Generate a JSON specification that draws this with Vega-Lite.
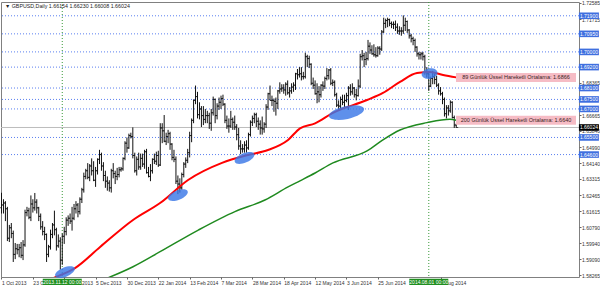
{
"$schema":"https://vega.github.io/schema/vega-lite/v6.json",
"width":578,"height":275,
"autosize":{"type":"none"},
"padding":{"left":1,"top":2,"right":21,"bottom":10},
"background":"#ffffff",
"config":{"view":{"stroke":"#808080","strokeWidth":1},"font":"Liberation Sans"},
"resolve":{"axis":{"x":"independent","y":"independent"}},
"datasets":{
"bars":[
{"d":"2013-10-01","i":0,"o":1.618,"h":1.6259,"l":1.615,"c":1.6195},
{"d":"2013-10-02","i":1,"o":1.6195,"h":1.6225,"l":1.615,"c":1.6205},
{"d":"2013-10-03","i":2,"o":1.6205,"h":1.6215,"l":1.611,"c":1.6175},
{"d":"2013-10-04","i":3,"o":1.6175,"h":1.6185,"l":1.6005,"c":1.602},
{"d":"2013-10-07","i":4,"o":1.602,"h":1.609,"l":1.6,"c":1.6075},
{"d":"2013-10-08","i":5,"o":1.6075,"h":1.61,"l":1.602,"c":1.6045},
{"d":"2013-10-09","i":6,"o":1.6045,"h":1.606,"l":1.5895,"c":1.5935},
{"d":"2013-10-10","i":7,"o":1.5935,"h":1.5995,"l":1.591,"c":1.5965},
{"d":"2013-10-11","i":8,"o":1.5965,"h":1.599,"l":1.5935,"c":1.596},
{"d":"2013-10-14","i":9,"o":1.596,"h":1.599,"l":1.592,"c":1.597},
{"d":"2013-10-15","i":10,"o":1.597,"h":1.6,"l":1.5915,"c":1.593},
{"d":"2013-10-16","i":11,"o":1.593,"h":1.601,"l":1.5905,"c":1.5985},
{"d":"2013-10-17","i":12,"o":1.5985,"h":1.617,"l":1.5975,"c":1.6155},
{"d":"2013-10-18","i":13,"o":1.6155,"h":1.6185,"l":1.6135,"c":1.6165},
{"d":"2013-10-21","i":14,"o":1.6165,"h":1.618,"l":1.612,"c":1.613},
{"d":"2013-10-22","i":15,"o":1.613,"h":1.6245,"l":1.611,"c":1.62},
{"d":"2013-10-23","i":16,"o":1.62,"h":1.6225,"l":1.6155,"c":1.618},
{"d":"2013-10-24","i":17,"o":1.618,"h":1.6258,"l":1.6165,"c":1.621},
{"d":"2013-10-25","i":18,"o":1.621,"h":1.6225,"l":1.615,"c":1.618},
{"d":"2013-10-28","i":19,"o":1.618,"h":1.6185,"l":1.611,"c":1.6135},
{"d":"2013-10-29","i":20,"o":1.6135,"h":1.615,"l":1.6065,"c":1.608},
{"d":"2013-10-30","i":21,"o":1.608,"h":1.611,"l":1.6035,"c":1.6055},
{"d":"2013-10-31","i":22,"o":1.6055,"h":1.608,"l":1.601,"c":1.604},
{"d":"2013-11-01","i":23,"o":1.604,"h":1.6045,"l":1.5895,"c":1.5935},
{"d":"2013-11-04","i":24,"o":1.5935,"h":1.5985,"l":1.592,"c":1.5975},
{"d":"2013-11-05","i":25,"o":1.5975,"h":1.6065,"l":1.596,"c":1.604},
{"d":"2013-11-06","i":26,"o":1.604,"h":1.61,"l":1.602,"c":1.609},
{"d":"2013-11-07","i":27,"o":1.609,"h":1.6165,"l":1.6035,"c":1.6065},
{"d":"2013-11-08","i":28,"o":1.6065,"h":1.6075,"l":1.5955,"c":1.598},
{"d":"2013-11-11","i":29,"o":1.598,"h":1.604,"l":1.597,"c":1.6005},
{"d":"2013-11-12","i":30,"o":1.6005,"h":1.6025,"l":1.5855,"c":1.5905},
{"d":"2013-11-13","i":31,"o":1.5905,"h":1.6045,"l":1.588,"c":1.603},
{"d":"2013-11-14","i":32,"o":1.603,"h":1.608,"l":1.599,"c":1.6055},
{"d":"2013-11-15","i":33,"o":1.6055,"h":1.613,"l":1.6035,"c":1.6115},
{"d":"2013-11-18","i":34,"o":1.6115,"h":1.614,"l":1.6085,"c":1.6125},
{"d":"2013-11-19","i":35,"o":1.6125,"h":1.615,"l":1.6095,"c":1.611},
{"d":"2013-11-20","i":36,"o":1.611,"h":1.6185,"l":1.606,"c":1.6125},
{"d":"2013-11-21","i":37,"o":1.6125,"h":1.62,"l":1.6115,"c":1.6175},
{"d":"2013-11-22","i":38,"o":1.6175,"h":1.6215,"l":1.615,"c":1.6195},
{"d":"2013-11-25","i":39,"o":1.6195,"h":1.6205,"l":1.613,"c":1.616},
{"d":"2013-11-26","i":40,"o":1.616,"h":1.6235,"l":1.6145,"c":1.6225},
{"d":"2013-11-27","i":41,"o":1.6225,"h":1.6285,"l":1.6205,"c":1.6275},
{"d":"2013-11-28","i":42,"o":1.6275,"h":1.6365,"l":1.626,"c":1.6345},
{"d":"2013-11-29","i":43,"o":1.6345,"h":1.6385,"l":1.633,"c":1.6375},
{"d":"2013-12-02","i":44,"o":1.6375,"h":1.6415,"l":1.633,"c":1.634},
{"d":"2013-12-03","i":45,"o":1.634,"h":1.641,"l":1.632,"c":1.64},
{"d":"2013-12-04","i":46,"o":1.64,"h":1.644,"l":1.635,"c":1.6375},
{"d":"2013-12-05","i":47,"o":1.6375,"h":1.6425,"l":1.632,"c":1.6325},
{"d":"2013-12-06","i":48,"o":1.6325,"h":1.6395,"l":1.629,"c":1.6375},
{"d":"2013-12-09","i":49,"o":1.6375,"h":1.644,"l":1.6355,"c":1.6435},
{"d":"2013-12-10","i":50,"o":1.6435,"h":1.6485,"l":1.641,"c":1.646},
{"d":"2013-12-11","i":51,"o":1.646,"h":1.647,"l":1.6375,"c":1.64},
{"d":"2013-12-12","i":52,"o":1.64,"h":1.642,"l":1.632,"c":1.635},
{"d":"2013-12-13","i":53,"o":1.635,"h":1.6375,"l":1.6285,"c":1.632},
{"d":"2013-12-16","i":54,"o":1.632,"h":1.6345,"l":1.627,"c":1.631},
{"d":"2013-12-17","i":55,"o":1.631,"h":1.6325,"l":1.6265,"c":1.6285},
{"d":"2013-12-18","i":56,"o":1.6285,"h":1.6385,"l":1.626,"c":1.6375},
{"d":"2013-12-19","i":57,"o":1.6375,"h":1.6415,"l":1.6335,"c":1.636},
{"d":"2013-12-20","i":58,"o":1.636,"h":1.6375,"l":1.6305,"c":1.6345},
{"d":"2013-12-23","i":59,"o":1.6345,"h":1.639,"l":1.6325,"c":1.6355},
{"d":"2013-12-24","i":60,"o":1.6355,"h":1.6395,"l":1.634,"c":1.638},
{"d":"2013-12-25","i":61,"o":1.638,"h":1.6395,"l":1.637,"c":1.6385},
{"d":"2013-12-26","i":62,"o":1.6385,"h":1.6445,"l":1.6375,"c":1.644},
{"d":"2013-12-27","i":63,"o":1.644,"h":1.653,"l":1.643,"c":1.652},
{"d":"2013-12-30","i":64,"o":1.652,"h":1.655,"l":1.647,"c":1.6495},
{"d":"2013-12-31","i":65,"o":1.6495,"h":1.657,"l":1.649,"c":1.656},
{"d":"2014-01-01","i":66,"o":1.656,"h":1.6575,"l":1.6545,"c":1.6555},
{"d":"2014-01-02","i":67,"o":1.6555,"h":1.6603,"l":1.644,"c":1.6455},
{"d":"2014-01-03","i":68,"o":1.6455,"h":1.647,"l":1.6365,"c":1.6375},
{"d":"2014-01-06","i":69,"o":1.6375,"h":1.645,"l":1.635,"c":1.6435},
{"d":"2014-01-07","i":70,"o":1.6435,"h":1.647,"l":1.638,"c":1.6395},
{"d":"2014-01-08","i":71,"o":1.6395,"h":1.6465,"l":1.638,"c":1.644},
{"d":"2014-01-09","i":72,"o":1.644,"h":1.6465,"l":1.6395,"c":1.641},
{"d":"2014-01-10","i":73,"o":1.641,"h":1.6485,"l":1.6385,"c":1.6475},
{"d":"2014-01-13","i":74,"o":1.6475,"h":1.649,"l":1.636,"c":1.6365},
{"d":"2014-01-14","i":75,"o":1.6365,"h":1.6395,"l":1.634,"c":1.6345},
{"d":"2014-01-15","i":76,"o":1.6345,"h":1.641,"l":1.632,"c":1.6375},
{"d":"2014-01-16","i":77,"o":1.6375,"h":1.644,"l":1.636,"c":1.6435},
{"d":"2014-01-17","i":78,"o":1.6435,"h":1.6465,"l":1.641,"c":1.6425},
{"d":"2014-01-20","i":79,"o":1.6425,"h":1.6475,"l":1.6405,"c":1.6455},
{"d":"2014-01-21","i":80,"o":1.6455,"h":1.648,"l":1.6395,"c":1.6405},
{"d":"2014-01-22","i":81,"o":1.6405,"h":1.6625,"l":1.64,"c":1.66},
{"d":"2014-01-23","i":82,"o":1.66,"h":1.6625,"l":1.652,"c":1.6585},
{"d":"2014-01-24","i":83,"o":1.6585,"h":1.6668,"l":1.6525,"c":1.653},
{"d":"2014-01-27","i":84,"o":1.653,"h":1.6575,"l":1.651,"c":1.6555},
{"d":"2014-01-28","i":85,"o":1.6555,"h":1.659,"l":1.652,"c":1.657},
{"d":"2014-01-29","i":86,"o":1.657,"h":1.658,"l":1.6485,"c":1.6515},
{"d":"2014-01-30","i":87,"o":1.6515,"h":1.652,"l":1.643,"c":1.6445},
{"d":"2014-01-31","i":88,"o":1.6445,"h":1.6485,"l":1.642,"c":1.6435},
{"d":"2014-02-03","i":89,"o":1.6435,"h":1.645,"l":1.6305,"c":1.632},
{"d":"2014-02-04","i":90,"o":1.632,"h":1.635,"l":1.6252,"c":1.6305},
{"d":"2014-02-05","i":91,"o":1.6305,"h":1.6335,"l":1.626,"c":1.6285},
{"d":"2014-02-06","i":92,"o":1.6285,"h":1.6365,"l":1.6275,"c":1.6355},
{"d":"2014-02-07","i":93,"o":1.6355,"h":1.642,"l":1.634,"c":1.641},
{"d":"2014-02-10","i":94,"o":1.641,"h":1.6445,"l":1.639,"c":1.643},
{"d":"2014-02-11","i":95,"o":1.643,"h":1.649,"l":1.6415,"c":1.647},
{"d":"2014-02-12","i":96,"o":1.647,"h":1.658,"l":1.6445,"c":1.656},
{"d":"2014-02-13","i":97,"o":1.656,"h":1.665,"l":1.6525,"c":1.664},
{"d":"2014-02-14","i":98,"o":1.664,"h":1.675,"l":1.6625,"c":1.6745},
{"d":"2014-02-17","i":99,"o":1.6745,"h":1.6823,"l":1.6725,"c":1.6765},
{"d":"2014-02-18","i":100,"o":1.6765,"h":1.679,"l":1.665,"c":1.667},
{"d":"2014-02-19","i":101,"o":1.667,"h":1.6735,"l":1.6645,"c":1.67},
{"d":"2014-02-20","i":102,"o":1.67,"h":1.6715,"l":1.6605,"c":1.6665},
{"d":"2014-02-21","i":103,"o":1.6665,"h":1.6715,"l":1.6615,"c":1.6645},
{"d":"2014-02-24","i":104,"o":1.6645,"h":1.67,"l":1.6625,"c":1.6665},
{"d":"2014-02-25","i":105,"o":1.6665,"h":1.669,"l":1.6625,"c":1.6665},
{"d":"2014-02-26","i":106,"o":1.6665,"h":1.668,"l":1.6595,"c":1.6625},
{"d":"2014-02-27","i":107,"o":1.6625,"h":1.67,"l":1.6585,"c":1.668},
{"d":"2014-02-28","i":108,"o":1.668,"h":1.6765,"l":1.6665,"c":1.675},
{"d":"2014-03-03","i":109,"o":1.675,"h":1.6755,"l":1.6625,"c":1.6665},
{"d":"2014-03-04","i":110,"o":1.6665,"h":1.673,"l":1.6645,"c":1.6715},
{"d":"2014-03-05","i":111,"o":1.6715,"h":1.676,"l":1.6695,"c":1.6735},
{"d":"2014-03-06","i":112,"o":1.6735,"h":1.677,"l":1.67,"c":1.6755},
{"d":"2014-03-07","i":113,"o":1.6755,"h":1.6775,"l":1.6715,"c":1.6725},
{"d":"2014-03-10","i":114,"o":1.6725,"h":1.673,"l":1.6625,"c":1.664},
{"d":"2014-03-11","i":115,"o":1.664,"h":1.6665,"l":1.6595,"c":1.661},
{"d":"2014-03-12","i":116,"o":1.661,"h":1.665,"l":1.6575,"c":1.661},
{"d":"2014-03-13","i":117,"o":1.661,"h":1.669,"l":1.66,"c":1.6645},
{"d":"2014-03-14","i":118,"o":1.6645,"h":1.6655,"l":1.659,"c":1.663},
{"d":"2014-03-17","i":119,"o":1.663,"h":1.6665,"l":1.659,"c":1.6605},
{"d":"2014-03-18","i":120,"o":1.6605,"h":1.662,"l":1.6535,"c":1.6565},
{"d":"2014-03-19","i":121,"o":1.6565,"h":1.66,"l":1.6485,"c":1.6505},
{"d":"2014-03-20","i":122,"o":1.6505,"h":1.6535,"l":1.6462,"c":1.649},
{"d":"2014-03-21","i":123,"o":1.649,"h":1.6515,"l":1.647,"c":1.649},
{"d":"2014-03-24","i":124,"o":1.649,"h":1.653,"l":1.647,"c":1.651},
{"d":"2014-03-25","i":125,"o":1.651,"h":1.6535,"l":1.647,"c":1.6495},
{"d":"2014-03-26","i":126,"o":1.6495,"h":1.6575,"l":1.6485,"c":1.6565},
{"d":"2014-03-27","i":127,"o":1.6565,"h":1.664,"l":1.6555,"c":1.663},
{"d":"2014-03-28","i":128,"o":1.663,"h":1.6665,"l":1.661,"c":1.665},
{"d":"2014-03-31","i":129,"o":1.665,"h":1.668,"l":1.6625,"c":1.667},
{"d":"2014-04-01","i":130,"o":1.667,"h":1.668,"l":1.6605,"c":1.6635},
{"d":"2014-04-02","i":131,"o":1.6635,"h":1.6655,"l":1.659,"c":1.662},
{"d":"2014-04-03","i":132,"o":1.662,"h":1.664,"l":1.6565,"c":1.66},
{"d":"2014-04-04","i":133,"o":1.66,"h":1.666,"l":1.6565,"c":1.6595},
{"d":"2014-04-07","i":134,"o":1.6595,"h":1.663,"l":1.6575,"c":1.662},
{"d":"2014-04-08","i":135,"o":1.662,"h":1.6725,"l":1.66,"c":1.671},
{"d":"2014-04-09","i":136,"o":1.671,"h":1.6785,"l":1.6695,"c":1.678},
{"d":"2014-04-10","i":137,"o":1.678,"h":1.6823,"l":1.6745,"c":1.6745},
{"d":"2014-04-11","i":138,"o":1.6745,"h":1.677,"l":1.6715,"c":1.6745},
{"d":"2014-04-14","i":139,"o":1.6745,"h":1.6755,"l":1.6685,"c":1.674},
{"d":"2014-04-15","i":140,"o":1.674,"h":1.676,"l":1.6665,"c":1.673},
{"d":"2014-04-16","i":141,"o":1.673,"h":1.68,"l":1.67,"c":1.6795},
{"d":"2014-04-17","i":142,"o":1.6795,"h":1.684,"l":1.678,"c":1.6805},
{"d":"2014-04-18","i":143,"o":1.6805,"h":1.683,"l":1.679,"c":1.681},
{"d":"2014-04-21","i":144,"o":1.681,"h":1.683,"l":1.678,"c":1.68},
{"d":"2014-04-22","i":145,"o":1.68,"h":1.684,"l":1.677,"c":1.683},
{"d":"2014-04-23","i":146,"o":1.683,"h":1.685,"l":1.6775,"c":1.6785},
{"d":"2014-04-24","i":147,"o":1.6785,"h":1.6815,"l":1.676,"c":1.6795},
{"d":"2014-04-25","i":148,"o":1.6795,"h":1.6835,"l":1.678,"c":1.6815},
{"d":"2014-04-28","i":149,"o":1.6815,"h":1.684,"l":1.679,"c":1.6825},
{"d":"2014-04-29","i":150,"o":1.6825,"h":1.689,"l":1.68,"c":1.6885},
{"d":"2014-04-30","i":151,"o":1.6885,"h":1.691,"l":1.6855,"c":1.688},
{"d":"2014-05-01","i":152,"o":1.688,"h":1.692,"l":1.6865,"c":1.6885},
{"d":"2014-05-02","i":153,"o":1.6885,"h":1.692,"l":1.685,"c":1.687},
{"d":"2014-05-05","i":154,"o":1.687,"h":1.6895,"l":1.6855,"c":1.687},
{"d":"2014-05-06","i":155,"o":1.687,"h":1.6996,"l":1.686,"c":1.6975},
{"d":"2014-05-07","i":156,"o":1.6975,"h":1.6985,"l":1.692,"c":1.6965},
{"d":"2014-05-08","i":157,"o":1.6965,"h":1.698,"l":1.6915,"c":1.6935},
{"d":"2014-05-09","i":158,"o":1.6935,"h":1.694,"l":1.6825,"c":1.6835},
{"d":"2014-05-12","i":159,"o":1.6835,"h":1.6865,"l":1.6805,"c":1.6825},
{"d":"2014-05-13","i":160,"o":1.6825,"h":1.685,"l":1.6775,"c":1.678},
{"d":"2014-05-14","i":161,"o":1.678,"h":1.6835,"l":1.673,"c":1.679},
{"d":"2014-05-15","i":162,"o":1.679,"h":1.682,"l":1.6735,"c":1.6775},
{"d":"2014-05-16","i":163,"o":1.6775,"h":1.683,"l":1.676,"c":1.6825},
{"d":"2014-05-19","i":164,"o":1.6825,"h":1.6845,"l":1.6795,"c":1.682},
{"d":"2014-05-20","i":165,"o":1.682,"h":1.687,"l":1.6805,"c":1.686},
{"d":"2014-05-21","i":166,"o":1.686,"h":1.6915,"l":1.685,"c":1.6875},
{"d":"2014-05-22","i":167,"o":1.6875,"h":1.691,"l":1.6855,"c":1.6905},
{"d":"2014-05-23","i":168,"o":1.6905,"h":1.6915,"l":1.6825,"c":1.6835},
{"d":"2014-05-26","i":169,"o":1.6835,"h":1.6855,"l":1.682,"c":1.684},
{"d":"2014-05-27","i":170,"o":1.684,"h":1.685,"l":1.6765,"c":1.6775},
{"d":"2014-05-28","i":171,"o":1.6775,"h":1.6785,"l":1.671,"c":1.672},
{"d":"2014-05-29","i":172,"o":1.672,"h":1.6745,"l":1.6693,"c":1.6715},
{"d":"2014-05-30","i":173,"o":1.6715,"h":1.6765,"l":1.67,"c":1.675},
{"d":"2014-06-02","i":174,"o":1.675,"h":1.6775,"l":1.672,"c":1.6735},
{"d":"2014-06-03","i":175,"o":1.6735,"h":1.6775,"l":1.671,"c":1.6745},
{"d":"2014-06-04","i":176,"o":1.6745,"h":1.6785,"l":1.6735,"c":1.677},
{"d":"2014-06-05","i":177,"o":1.677,"h":1.682,"l":1.6695,"c":1.681},
{"d":"2014-06-06","i":178,"o":1.681,"h":1.683,"l":1.677,"c":1.679},
{"d":"2014-06-09","i":179,"o":1.679,"h":1.6835,"l":1.6775,"c":1.681},
{"d":"2014-06-10","i":180,"o":1.681,"h":1.6815,"l":1.676,"c":1.6775},
{"d":"2014-06-11","i":181,"o":1.6775,"h":1.6805,"l":1.6745,"c":1.677},
{"d":"2014-06-12","i":182,"o":1.677,"h":1.6855,"l":1.6765,"c":1.682},
{"d":"2014-06-13","i":183,"o":1.682,"h":1.699,"l":1.681,"c":1.6975},
{"d":"2014-06-16","i":184,"o":1.6975,"h":1.701,"l":1.6955,"c":1.698},
{"d":"2014-06-17","i":185,"o":1.698,"h":1.6995,"l":1.692,"c":1.696},
{"d":"2014-06-18","i":186,"o":1.696,"h":1.7,"l":1.693,"c":1.6965},
{"d":"2014-06-19","i":187,"o":1.6965,"h":1.7063,"l":1.6955,"c":1.703},
{"d":"2014-06-20","i":188,"o":1.703,"h":1.705,"l":1.699,"c":1.701},
{"d":"2014-06-23","i":189,"o":1.701,"h":1.7035,"l":1.6985,"c":1.699},
{"d":"2014-06-24","i":190,"o":1.699,"h":1.704,"l":1.6975,"c":1.6985},
{"d":"2014-06-25","i":191,"o":1.6985,"h":1.7025,"l":1.697,"c":1.698},
{"d":"2014-06-26","i":192,"o":1.698,"h":1.703,"l":1.6975,"c":1.702},
{"d":"2014-06-27","i":193,"o":1.702,"h":1.703,"l":1.6985,"c":1.7015},
{"d":"2014-06-30","i":194,"o":1.7015,"h":1.7115,"l":1.7005,"c":1.7105},
{"d":"2014-07-01","i":195,"o":1.7105,"h":1.718,"l":1.71,"c":1.715},
{"d":"2014-07-02","i":196,"o":1.715,"h":1.7175,"l":1.7125,"c":1.7165},
{"d":"2014-07-03","i":197,"o":1.7165,"h":1.718,"l":1.713,"c":1.717},
{"d":"2014-07-04","i":198,"o":1.717,"h":1.7175,"l":1.7135,"c":1.715},
{"d":"2014-07-07","i":199,"o":1.715,"h":1.716,"l":1.7125,"c":1.7145},
{"d":"2014-07-08","i":200,"o":1.7145,"h":1.716,"l":1.712,"c":1.7145},
{"d":"2014-07-09","i":201,"o":1.7145,"h":1.7165,"l":1.711,"c":1.713},
{"d":"2014-07-10","i":202,"o":1.713,"h":1.715,"l":1.7095,"c":1.711},
{"d":"2014-07-11","i":203,"o":1.711,"h":1.7135,"l":1.709,"c":1.711},
{"d":"2014-07-14","i":204,"o":1.711,"h":1.713,"l":1.7085,"c":1.711},
{"d":"2014-07-15","i":205,"o":1.711,"h":1.7192,"l":1.7095,"c":1.714},
{"d":"2014-07-16","i":206,"o":1.714,"h":1.718,"l":1.711,"c":1.716},
{"d":"2014-07-17","i":207,"o":1.716,"h":1.7165,"l":1.71,"c":1.7115},
{"d":"2014-07-18","i":208,"o":1.7115,"h":1.712,"l":1.707,"c":1.7085},
{"d":"2014-07-21","i":209,"o":1.7085,"h":1.7095,"l":1.705,"c":1.707},
{"d":"2014-07-22","i":210,"o":1.707,"h":1.708,"l":1.7035,"c":1.706},
{"d":"2014-07-23","i":211,"o":1.706,"h":1.707,"l":1.7,"c":1.7025},
{"d":"2014-07-24","i":212,"o":1.7025,"h":1.703,"l":1.6975,"c":1.699},
{"d":"2014-07-25","i":213,"o":1.699,"h":1.7,"l":1.696,"c":1.6985},
{"d":"2014-07-28","i":214,"o":1.6985,"h":1.7,"l":1.696,"c":1.699},
{"d":"2014-07-29","i":215,"o":1.699,"h":1.7,"l":1.6955,"c":1.6975},
{"d":"2014-07-30","i":216,"o":1.6975,"h":1.6985,"l":1.688,"c":1.6895},
{"d":"2014-07-31","i":217,"o":1.6895,"h":1.692,"l":1.6865,"c":1.6885},
{"d":"2014-08-01","i":218,"o":1.6885,"h":1.689,"l":1.6795,"c":1.682},
{"d":"2014-08-04","i":219,"o":1.682,"h":1.687,"l":1.6815,"c":1.686},
{"d":"2014-08-05","i":220,"o":1.686,"h":1.69,"l":1.683,"c":1.687},
{"d":"2014-08-06","i":221,"o":1.687,"h":1.6885,"l":1.683,"c":1.6855},
{"d":"2014-08-07","i":222,"o":1.6855,"h":1.6875,"l":1.6815,"c":1.6825},
{"d":"2014-08-08","i":223,"o":1.6825,"h":1.6835,"l":1.6775,"c":1.6795},
{"d":"2014-08-11","i":224,"o":1.6795,"h":1.6815,"l":1.677,"c":1.678},
{"d":"2014-08-12","i":225,"o":1.678,"h":1.679,"l":1.6725,"c":1.675},
{"d":"2014-08-13","i":226,"o":1.675,"h":1.676,"l":1.666,"c":1.6675},
{"d":"2014-08-14","i":227,"o":1.6675,"h":1.672,"l":1.665,"c":1.6705},
{"d":"2014-08-15","i":228,"o":1.6705,"h":1.672,"l":1.6665,"c":1.669},
{"d":"2014-08-18","i":229,"o":1.669,"h":1.6745,"l":1.668,"c":1.6735},
{"d":"2014-08-19","i":230,"o":1.6735,"h":1.674,"l":1.665,"c":1.6655},
{"d":"2014-08-20","i":231,"o":1.6655,"h":1.6665,"l":1.66,"c":1.6615},
{"d":"2014-08-21","i":232,"o":1.66154,"h":1.6623,"l":1.66008,"c":1.66024}
],
"ema89":[
{"i":26,"v":1.5808},{"i":27.8,"v":1.5816},{"i":37.5,"v":1.5863},{"i":50.3,"v":1.5974},{"i":67.1,"v":1.6116},{"i":80.9,"v":1.6205},{"i":95.2,"v":1.6326},{"i":112.5,"v":1.6416},{"i":125.8,"v":1.6458},{"i":136,"v":1.6484},{"i":146.2,"v":1.6537},{"i":152.3,"v":1.6598},{"i":160,"v":1.6624},{"i":169.1,"v":1.6679},{"i":186.5,"v":1.6747},{"i":194.6,"v":1.6784},{"i":203.3,"v":1.6842},{"i":212,"v":1.6889},{"i":218.6,"v":1.6894},{"i":225.3,"v":1.6879},{"i":232,"v":1.6866}
],
"ema200":[
{"i":54,"v":1.581},{"i":55.4,"v":1.5816},{"i":67.1,"v":1.587},{"i":80.9,"v":1.5949},{"i":100.4,"v":1.6063},{"i":119.1,"v":1.616},{"i":134.4,"v":1.6221},{"i":146.2,"v":1.629},{"i":152.3,"v":1.6322},{"i":160,"v":1.6363},{"i":169.1,"v":1.6416},{"i":186.5,"v":1.6479},{"i":194.6,"v":1.6537},{"i":203.3,"v":1.6589},{"i":217.1,"v":1.6628},{"i":228.8,"v":1.6646},{"i":232,"v":1.664}
],
"hl":[{"p":1.719},{"p":1.7095},{"p":1.7},{"p":1.692},{"p":1.681},{"p":1.675},{"p":1.67},{"p":1.655},{"p":1.646}],
"cur":[{"p":1.66024}],
"cross":[{"i":31,"t":"2013.11.12 00:00"},{"i":218,"t":"2014.08.01 00:00"}],
"ell":[{"n":1,"i":32.4,"p":1.5842},{"n":2,"i":90,"p":1.6247},{"n":3,"i":124,"p":1.6442},{"n":4,"i":176,"p":1.6681},{"n":5,"i":218.4,"p":1.6886}],
"ma":[{"p":1.6866,"t":"89 Günlük Üssel Hareketli Ortalama: 1.6866"},{"p":1.664,"t":"200 Günlük Üssel Hareketli Ortalama: 1.6640"}],
"info":[{"t":"▼ GBPUSD,Daily  1.66154 1.66230 1.66008 1.66024"}]
},
"layer":[
{"data":{"name":"hl"},"mark":{"type":"rule","color":"#5a7ff0","strokeWidth":1,"strokeDash":[1,2]},
 "encoding":{"y":{"field":"p","type":"quantitative","axis":null}}},
{"data":{"name":"cur"},"mark":{"type":"rule","color":"#bdbdbd","strokeWidth":1},
 "encoding":{"y":{"field":"p","type":"quantitative","axis":null}}},
{"data":{"name":"cross"},"mark":{"type":"rule","color":"#3a9a3a","strokeWidth":1,"strokeDash":[1,2]},
 "encoding":{"x":{"field":"i","type":"quantitative","axis":null}}},
{"data":{"name":"bars"},"mark":{"type":"rule","color":"#111111","strokeWidth":1,"clip":true},
 "encoding":{
  "x":{"field":"i","type":"quantitative","scale":{"domain":[-0.255,294.64],"nice":false,"zero":false},
   "axis":{"title":null,"grid":false,"domain":false,"values":[0,16,32,48,64,80,96,112,128,144,160,176,192,224],
    "labelExpr":"['1 Oct 2013','23 Oct 2013','14 Nov 2013','5 Dec 2013','30 Dec 2013','22 Jan 2014','13 Feb 2014','7 Mar 2014','28 Mar 2014','18 Apr 2014','12 May 2014','3 Jun 2014','25 Jun 2014','17 Jul 2014','8 Aug 2014'][round(datum.value/16)]",
    "labelAlign":"left","labelDx":1,"labelFontSize":5,"labelColor":"#333333","labelPadding":1,"tickSize":2,"tickColor":"#666666",
    "labelOverlap":false,"labelFlush":false,"labelBound":false,"labelFont":"Liberation Sans"}},
  "y":{"field":"l","type":"quantitative","scale":{"domain":[1.5816,1.72625],"nice":false,"zero":false},
   "axis":{"orient":"right","title":null,"grid":false,"domain":false,
    "values":[1.58265,1.5909,1.5994,1.6079,1.61615,1.62465,1.63315,1.6414,1.6499,1.6584,1.66665,1.68365,1.71715,1.72585],
    "format":".5f","labelFontSize":5,"labelColor":"#333333","labelPadding":0.5,"tickSize":2,"tickColor":"#666666",
    "labelOverlap":false,"labelFlush":false,"labelBound":false,"labelFont":"Liberation Sans"}},
  "y2":{"field":"h"}}},
{"data":{"name":"bars"},"mark":{"type":"tick","orient":"horizontal","size":2,"thickness":1,"xOffset":-1,"color":"#111111"},
 "encoding":{"x":{"field":"i","type":"quantitative","axis":null},"y":{"field":"o","type":"quantitative","axis":null}}},
{"data":{"name":"bars"},"mark":{"type":"tick","orient":"horizontal","size":2,"thickness":1,"xOffset":1,"color":"#111111"},
 "encoding":{"x":{"field":"i","type":"quantitative","axis":null},"y":{"field":"c","type":"quantitative","axis":null}}},
{"data":{"name":"ema200"},"mark":{"type":"line","color":"#1f8a1f","strokeWidth":1.5,"interpolate":"monotone","clip":true},
 "encoding":{"x":{"field":"i","type":"quantitative","axis":null},"y":{"field":"v","type":"quantitative","axis":null}}},
{"data":{"name":"ema89"},"mark":{"type":"line","color":"#ff0000","strokeWidth":2,"interpolate":"monotone","clip":true},
 "encoding":{"x":{"field":"i","type":"quantitative","axis":null},"y":{"field":"v","type":"quantitative","axis":null}}},
{"data":{"name":"ell"},"transform":[{"filter":{"field":"n","oneOf":[1,2,3]}}],
 "mark":{"type":"point","filled":true,"color":"#3a78e6","opacity":0.82,"strokeWidth":0,"size":441,"angle":-22,"shape":"M-1,0A1,0.45,0,1,1,1,0A1,0.45,0,1,1,-1,0Z"},
 "encoding":{"x":{"field":"i","type":"quantitative","axis":null},"y":{"field":"p","type":"quantitative","axis":null}}},
{"data":{"name":"ell"},"transform":[{"filter":{"field":"n","oneOf":[4]}}],
 "mark":{"type":"point","filled":true,"color":"#3a78e6","opacity":0.82,"strokeWidth":0,"size":1296,"angle":-12,"shape":"M-1,0A1,0.36,0,1,1,1,0A1,0.36,0,1,1,-1,0Z"},
 "encoding":{"x":{"field":"i","type":"quantitative","axis":null},"y":{"field":"p","type":"quantitative","axis":null}}},
{"data":{"name":"ell"},"transform":[{"filter":{"field":"n","oneOf":[5]}}],
 "mark":{"type":"point","filled":true,"color":"#3a78e6","opacity":0.82,"strokeWidth":0,"size":256,"angle":-10,"shape":"M-1,0A1,0.65,0,1,1,1,0A1,0.65,0,1,1,-1,0Z"},
 "encoding":{"x":{"field":"i","type":"quantitative","axis":null},"y":{"field":"p","type":"quantitative","axis":null}}},
{"data":{"name":"ma"},"mark":{"type":"point","filled":true,"color":"#f6bcc5","opacity":1,"strokeWidth":0,"size":14400,"shape":"M-1,-0.075H1V0.075H-1Z"},
 "encoding":{"x":{"datum":262.5,"type":"quantitative","axis":null},"y":{"field":"p","type":"quantitative","axis":null}}},
{"data":{"name":"ma"},"mark":{"type":"text","fontSize":5.5,"color":"#3a2424","align":"center","baseline":"middle","font":"Liberation Sans"},
 "encoding":{"x":{"datum":262.5,"type":"quantitative","axis":null},"y":{"field":"p","type":"quantitative","axis":null},"text":{"field":"t"}}},
{"data":{"name":"hl"},"mark":{"type":"point","filled":true,"color":"#3f6fdf","opacity":1,"strokeWidth":0,"size":400,"shape":"M-1,-0.33H1V0.33H-1Z"},
 "encoding":{"x":{"datum":299.7,"type":"quantitative","axis":null},"y":{"field":"p","type":"quantitative","axis":null}}},
{"data":{"name":"hl"},"mark":{"type":"text","fontSize":5,"color":"#ffffff","align":"center","baseline":"middle","font":"Liberation Sans"},
 "encoding":{"x":{"datum":299.7,"type":"quantitative","axis":null},"y":{"field":"p","type":"quantitative","axis":null},"text":{"field":"p","format":".5f"}}},
{"data":{"name":"cur"},"mark":{"type":"point","filled":true,"color":"#000000","opacity":1,"strokeWidth":0,"size":400,"shape":"M-1,-0.33H1V0.33H-1Z"},
 "encoding":{"x":{"datum":299.7,"type":"quantitative","axis":null},"y":{"field":"p","type":"quantitative","axis":null}}},
{"data":{"name":"cur"},"mark":{"type":"text","fontSize":5,"color":"#ffffff","align":"center","baseline":"middle","font":"Liberation Sans"},
 "encoding":{"x":{"datum":299.7,"type":"quantitative","axis":null},"y":{"field":"p","type":"quantitative","axis":null},"text":{"field":"p","format":".5f"}}},
{"data":{"name":"cross"},"mark":{"type":"point","filled":true,"color":"#1f8f1f","opacity":1,"strokeWidth":0,"size":1521,"shape":"M-1,-0.16H1V0.16H-1Z"},
 "encoding":{"x":{"field":"i","type":"quantitative","axis":null},"y":{"datum":1.579,"type":"quantitative","axis":null}}},
{"data":{"name":"cross"},"mark":{"type":"text","fontSize":5,"color":"#ffffff","align":"center","baseline":"middle","font":"Liberation Sans"},
 "encoding":{"x":{"field":"i","type":"quantitative","axis":null},"y":{"datum":1.579,"type":"quantitative","axis":null},"text":{"field":"t"}}},
{"data":{"name":"info"},"mark":{"type":"text","fontSize":5.3,"color":"#222222","align":"left","baseline":"middle","font":"Liberation Sans"},
 "encoding":{"x":{"datum":1.8,"type":"quantitative","axis":null},"y":{"datum":1.7241,"type":"quantitative","axis":null},"text":{"field":"t"}}}
]
}
